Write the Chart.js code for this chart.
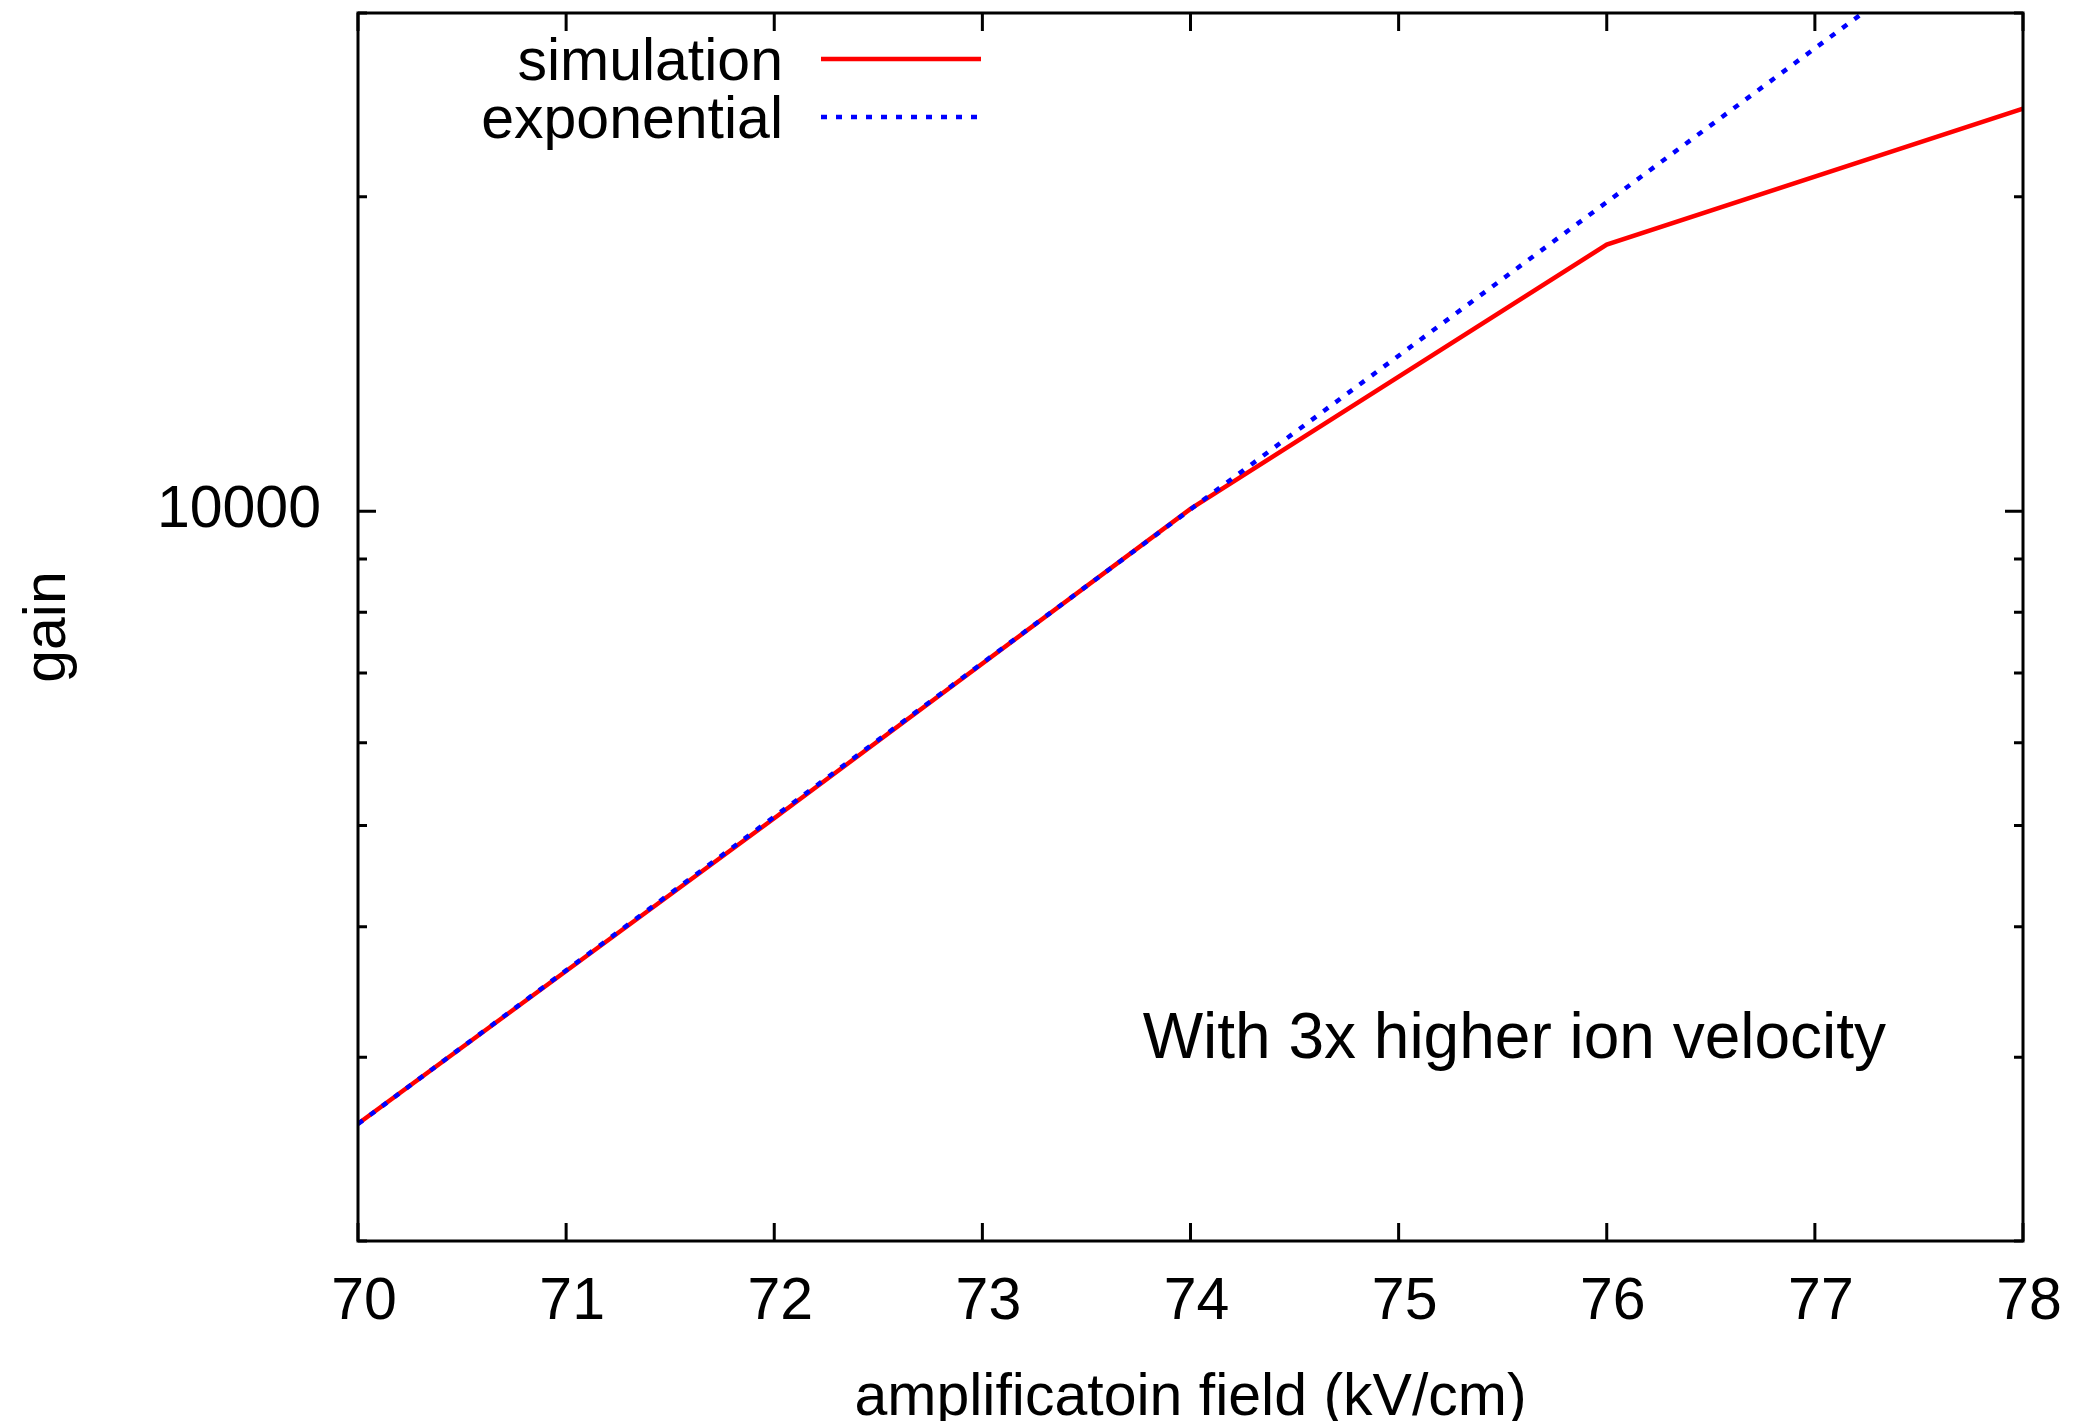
<!DOCTYPE html>
<html>
<head>
<meta charset="utf-8">
<script src="https://cdn.jsdelivr.net/npm/chart.js@4.4.0/dist/chart.umd.min.js"></script>
<style>
    html, body { margin: 0; padding: 0; background: #ffffff; }
    #contenedor { width: 2077px; height: 1421px; }
</style>
</head>
<body>
<div id="contenedor"><canvas id="graficoGanancia"></canvas></div>
<script>
// ==========================================
// DATOS
// ==========================================
const nombresSeries = ['simulation', 'exponential'];
const campoSimulacion = [70, 72, 74, 76, 78];
const gananciaSimulacion = [2590, 5080, 10050, 18000, 24300];
const campoExponencial = [70, 71, 72, 73, 74, 75, 76, 77, 78];
const gananciaExponencial = [2589, 3633, 5098, 7154, 10040, 14090, 19770, 27750, 38940];
const ticksX = [70, 71, 72, 73, 74, 75, 76, 77, 78];
const ticksY = [2000, 3000, 4000, 5000, 6000, 7000, 8000, 9000, 10000, 20000, 30000];
const etiquetasY = [10000];
const nota = 'With 3x higher ion velocity';
const posicionNota = [73.77, 2995];

const fuente = '"Liberation Sans", Arial, Helvetica, sans-serif';
const tamano = 59;
Chart.defaults.font.family = fuente;
Chart.defaults.color = '#000000';

const colores = {
    simulacion: '#ff0000',
    exponencial: '#0000ff',
    marco: '#000000'
};

// Marco con ticks hacia dentro (estilo gnuplot)
const marcoPlugin = {
    id: 'marco',
    afterDatasetsDraw(chart) {
        const { ctx, chartArea: { left, right, top, bottom }, scales: { x, y } } = chart;
        ctx.save();
        ctx.strokeStyle = colores.marco;
        ctx.lineWidth = 3;
        ctx.beginPath();
        x.ticks.forEach(t => {
            const px = x.getPixelForValue(t.value);
            ctx.moveTo(px, bottom); ctx.lineTo(px, bottom - 18);
            ctx.moveTo(px, top); ctx.lineTo(px, top + 18);
        });
        y.ticks.forEach(t => {
            const py = y.getPixelForValue(t.value);
            const largo = etiquetasY.includes(t.value) ? 18 : 9;
            ctx.moveTo(left, py); ctx.lineTo(left + largo, py);
            ctx.moveTo(right, py); ctx.lineTo(right - largo, py);
        });
        ctx.stroke();
        ctx.strokeRect(left, top, right - left, bottom - top);
        ctx.restore();
    }
};

// Leyenda y nota de texto
const textosPlugin = {
    id: 'textos',
    afterDraw(chart) {
        const { ctx, chartArea: { left }, scales: { x, y } } = chart;
        ctx.save();
        ctx.font = tamano + 'px ' + fuente;
        ctx.textAlign = 'right';
        ctx.textBaseline = 'alphabetic';
        chart.data.datasets.forEach((ds, i) => {
            const yy = 59 + i * 58;
            ctx.fillStyle = '#000000';
            ctx.fillText(ds.label, left + 425, yy + 21);
            ctx.strokeStyle = ds.borderColor;
            ctx.lineWidth = ds.borderWidth;
            ctx.setLineDash(ds.borderDash || []);
            ctx.beginPath();
            ctx.moveTo(left + 463, yy);
            ctx.lineTo(left + 623, yy);
            ctx.stroke();
        });
        ctx.setLineDash([]);
        ctx.font = '64px ' + fuente;
        ctx.textAlign = 'left';
        ctx.fillStyle = '#000000';
        ctx.fillText(nota, x.getPixelForValue(posicionNota[0]), y.getPixelForValue(posicionNota[1]));
        ctx.restore();
    }
};

const ctx = document.getElementById('graficoGanancia').getContext('2d');
new Chart(ctx, {
    type: 'line',
    data: {
        datasets: [
            {
                label: nombresSeries[0],
                data: campoSimulacion.map((v, i) => ({ x: v, y: gananciaSimulacion[i] })),
                borderColor: colores.simulacion,
                borderWidth: 4.5,
                pointRadius: 0,
                tension: 0,
                order: 1
            },
            {
                label: nombresSeries[1],
                data: campoExponencial.map((v, i) => ({ x: v, y: gananciaExponencial[i] })),
                borderColor: colores.exponencial,
                borderWidth: 4.5,
                borderDash: [6, 9],
                borderCapStyle: 'butt',
                pointRadius: 0,
                tension: 0,
                order: 0
            }
        ]
    },
    options: {
        responsive: true,
        maintainAspectRatio: false,
        animation: false,
        events: [],
        layout: { padding: { left: 0, right: 54, top: 13, bottom: 0 } },
        plugins: {
            legend: { display: false },
            tooltip: { enabled: false }
        },
        scales: {
            x: {
                type: 'linear',
                min: 70,
                max: 78,
                afterBuildTicks: (scale) => { scale.ticks = ticksX.map(v => ({ value: v })); },
                afterFit: (scale) => {
                    scale.height = 180;
                    scale.paddingLeft = 0;
                    scale.paddingRight = 0;
                },
                ticks: {
                    font: { size: tamano },
                    color: '#000000',
                    padding: 26,
                    labelOffset: 6,
                    maxRotation: 0,
                    autoSkip: false,
                    callback: (v) => String(v)
                },
                grid: { display: false, drawTicks: false },
                border: { display: false },
                title: {
                    display: true,
                    text: 'amplificatoin field (kV/cm)',
                    font: { size: tamano },
                    color: '#000000',
                    padding: { top: 0, bottom: -13 }
                }
            },
            y: {
                type: 'logarithmic',
                min: 2000,
                max: 30000,
                afterBuildTicks: (scale) => { scale.ticks = ticksY.map(v => ({ value: v })); },
                afterFit: (scale) => {
                    scale.width = 358;
                    scale.paddingTop = 0;
                    scale.paddingBottom = 0;
                },
                ticks: {
                    font: { size: tamano },
                    color: '#000000',
                    padding: 37,
                    autoSkip: false,
                    callback: (v) => etiquetasY.includes(v) ? String(v) : ''
                },
                grid: { display: false, drawTicks: false },
                border: { display: false },
                title: {
                    display: true,
                    text: 'gain',
                    font: { size: tamano },
                    color: '#000000',
                    padding: { top: 13, bottom: 0 }
                }
            }
        }
    },
    plugins: [marcoPlugin, textosPlugin]
});
</script>
</body>
</html>
